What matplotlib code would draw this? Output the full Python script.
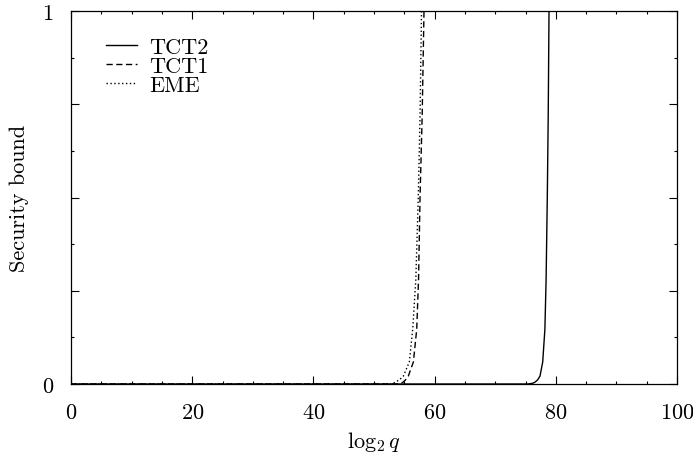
import matplotlib
matplotlib.use('Agg')
import matplotlib.pyplot as plt
from matplotlib.ticker import FixedLocator, FixedFormatter, MultipleLocator

plt.rcParams['font.family'] = ['cmr10', 'DejaVu Serif']
plt.rcParams['mathtext.fontset'] = 'cm'
plt.rcParams['axes.formatter.use_mathtext'] = True

# bounds (log2 q vs bound, capped at 1)
tct2_x = [0, 75.4, 76.2, 76.57, 77.0, 77.39, 77.84, 78.2, 78.4, 78.6, 78.75, 78.88, 100]
tct2_y = [0, 0.0, 0.002, 0.005, 0.011, 0.021, 0.059, 0.147, 0.28, 0.504, 0.72, 1.0, 1.0]

tct1_x = [0, 54.0, 54.5, 54.8, 55.2, 55.66, 56.5, 57.05, 57.35, 57.6, 57.95, 58.25, 100]
tct1_y = [0, 0.0, 0.002, 0.005, 0.011, 0.021, 0.059, 0.147, 0.28, 0.504, 0.72, 1.0, 1.0]

eme_x = [0, 52.8, 53.2, 53.5, 54.2, 54.84, 55.83, 56.39, 56.9, 57.31, 57.6, 57.84, 100]
eme_y = [0, 0.0, 0.002, 0.005, 0.011, 0.021, 0.059, 0.147, 0.28, 0.504, 0.72, 1.0, 1.0]

fig = plt.figure(figsize=(6.93, 4.6), dpi=100)
ax = fig.add_axes([71/693, 75/460, 606/693, 373/460])

ax.plot(tct2_x, tct2_y, color='black', lw=1.0, label='TCT2')
ax.plot(tct1_x, tct1_y, color='black', lw=1.0, dashes=(4.5, 2.5), label='TCT1')
ax.plot(eme_x, eme_y, color='black', lw=1.0, dashes=(1, 1.8), label='EME')

ax.set_xlim(0, 100)
ax.set_ylim(0, 1)
ax.xaxis.set_major_locator(MultipleLocator(20))
ax.xaxis.set_minor_locator(MultipleLocator(5))
ax.yaxis.set_major_locator(FixedLocator([0, 0.25, 0.5, 0.75, 1]))
ax.yaxis.set_major_formatter(FixedFormatter(['0', '', '', '', '1']))
ax.yaxis.set_minor_locator(FixedLocator([0.125, 0.375, 0.625, 0.875]))
ax.tick_params(which='both', direction='in', top=True, right=True, labelsize=16, width=0.8)
ax.tick_params(which='major', length=5.5)
ax.tick_params(axis='x', which='major', pad=13)
ax.tick_params(axis='y', which='major', pad=13)
ax.tick_params(which='minor', length=2.5)
for s in ax.spines.values():
    s.set_linewidth(0.9)

ax.set_xlabel(r'$\log_2 q$', fontsize=16, labelpad=5)
ax.set_ylabel('Security bound', fontsize=16, labelpad=9)

ax.legend(loc='upper left', bbox_to_anchor=(0.058, 0.93), frameon=False, fontsize=16,
          borderpad=0, borderaxespad=0, labelspacing=-0.02, handlelength=1.4, handletextpad=0.55)

fig.savefig('out.png', dpi=100)
